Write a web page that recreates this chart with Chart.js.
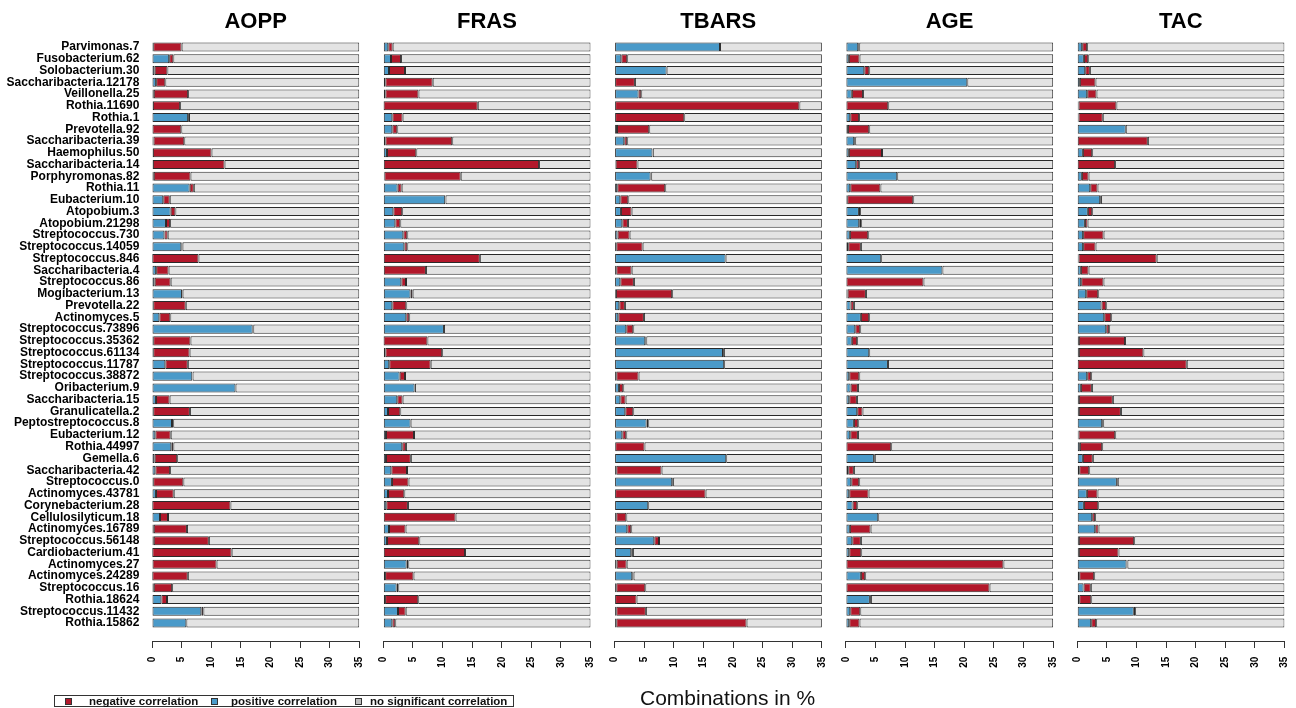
<!DOCTYPE html>
<html lang="en">
<head>
<meta charset="utf-8">
<title>Combinations in %</title>
<script src="https://cdn.jsdelivr.net/npm/chart.js@4.4.1/dist/chart.umd.min.js"></script>
<style>
  body { margin: 0; background: #fff; width: 1296px; height: 708px; overflow: hidden; position: relative;
         font-family: 'Liberation Sans', Arial, sans-serif; color: #111; }
  .panel { position: absolute; top: 0; height: 708px; }
  .legend-box { position: absolute; left: 54px; top: 695px; width: 458px; height: 10px; border: 1px solid #333; }
  .sq { position: absolute; top: 698px; width: 5px; height: 5px; border: 1px solid #333; }
  .lt { position: absolute; top: 695px; line-height: 12px; font-size: 11.5px; font-weight: bold; white-space: nowrap; }
  .xlab { position: absolute; left: 640px; top: 686px; font-size: 21px; line-height: 24px; white-space: nowrap; }
</style>
</head>
<body>
<div class="panel" style="left:0px;width:384px"><canvas id="p0"></canvas></div>
<div class="panel" style="left:359px;width:256px"><canvas id="p1"></canvas></div>
<div class="panel" style="left:590px;width:256px"><canvas id="p2"></canvas></div>
<div class="panel" style="left:821px;width:256px"><canvas id="p3"></canvas></div>
<div class="panel" style="left:1053px;width:256px"><canvas id="p4"></canvas></div>

<div class="legend-box"></div>
<div class="sq" style="left:65px;background:#B2182B"></div>
<div class="lt" style="left:89px">negative correlation</div>
<div class="sq" style="left:211px;background:#4A9AC9"></div>
<div class="lt" style="left:231px">positive correlation</div>
<div class="sq" style="left:355px;background:#BEBEBE"></div>
<div class="lt" style="left:370px">no significant correlation</div>
<div class="xlab">Combinations in %</div>

<script>
const taxa = ['Parvimonas.7','Fusobacterium.62','Solobacterium.30','Saccharibacteria.12178','Veillonella.25',
  'Rothia.11690','Rothia.1','Prevotella.92','Saccharibacteria.39','Haemophilus.50','Saccharibacteria.14',
  'Porphyromonas.82','Rothia.11','Eubacterium.10','Atopobium.3','Atopobium.21298','Streptococcus.730',
  'Streptococcus.14059','Streptococcus.846','Saccharibacteria.4','Streptococcus.86','Mogibacterium.13',
  'Prevotella.22','Actinomyces.5','Streptococcus.73896','Streptococcus.35362','Streptococcus.61134',
  'Streptococcus.11787','Streptococcus.38872','Oribacterium.9','Saccharibacteria.15','Granulicatella.2',
  'Peptostreptococcus.8','Eubacterium.12','Rothia.44997','Gemella.6','Saccharibacteria.42','Streptococcus.0',
  'Actinomyces.43781','Corynebacterium.28','Cellulosilyticum.18','Actinomyces.16789','Streptococcus.56148',
  'Cardiobacterium.41','Actinomyces.27','Actinomyces.24289','Streptococcus.16','Rothia.18624',
  'Streptococcus.11432','Rothia.15862'];

const markers = ['AOPP', 'FRAS', 'TBARS', 'AGE', 'TAC'];
const xTicks = [0, 5, 10, 15, 20, 25, 30, 35];

// % of combinations with a positive / negative correlation, per taxon
const aoppPos = [0.2,2.9,0.45,0.7,0.3,0.15,6.1,0,0.25,0.15,0.15,0.3,6.36,1.9,3.15,2.36,2.1,4.95,0.05,0.7,0.45,5.06,0.2,1.24,17.0,
  0.2,0.2,2.25,6.8,14.1,0.67,0.2,3.38,0.56,3.26,0.45,0.56,0.2,0.67,0.05,1.35,0.3,0.3,0.05,0,0.05,0.3,1.58,8.33,5.8];
const aoppNeg = [4.8,0.7,2.15,1.55,5.8,4.6,0.15,4.95,5.2,9.9,12.1,6.2,0.7,1.1,0.8,0.7,0.55,0.2,7.8,2.1,2.7,0.1,5.5,1.85,0.1,
  6.3,6.15,3.8,0.05,0,2.3,6.2,0.2,2.6,0.35,3.8,2.5,5.1,3.0,13.2,1.35,5.6,9.3,13.4,10.9,6.0,3.1,0.95,0.35,0];

const frasPos = [0.84,1.3,0.96,0.34,0.34,0.05,1.52,1.52,0.34,0.62,0,0.17,2.42,10.45,1.69,2.03,3.38,3.55,0,0,3.04,4.6,1.52,3.88,10.24,
  0.05,0.34,1.0,2.76,5.29,2.36,0.79,4.61,0.45,3.2,0.45,1.35,1.46,0.79,0.5,0,0.96,0.62,0,3.94,0.3,2.25,0.3,2.48,1.52];
const frasNeg = [0.74,1.7,2.7,8.0,5.6,15.9,1.74,0.84,11.3,4.95,26.3,12.9,0.68,0.05,1.5,0.84,0.67,0.5,16.3,7.2,0.79,0.35,2.36,0.5,0,
  7.4,9.6,7.0,0.9,0.05,0.9,2.08,0,4.73,0.62,4.2,2.65,2.8,2.76,3.66,12.2,2.8,5.46,13.8,0.28,4.8,0.28,5.6,1.3,0.5];

const tbarsPos = [17.8,1.13,8.78,0,4.05,0,0,0.4,1.63,6.4,0.17,6.08,0.45,0.96,1.07,1.3,0.5,0.28,18.74,0.28,0.96,0.22,0.79,0.62,1.97,
  5.18,18.3,18.5,0.28,0.73,0.96,1.8,5.4,1.3,0.1,18.85,0.28,9.73,0,5.68,0.28,2.14,6.7,2.81,0.34,2.98,0.28,0,0.28,0.28];
const tbarsNeg = [0,1.0,0,3.43,0.45,31.2,11.76,5.45,0.5,0.05,3.7,0.1,8.1,1.35,1.8,0.95,2.03,4.45,0,2.6,2.3,9.5,0.95,4.33,1.18,
  0.17,0.15,0,3.77,0.73,0.9,1.35,0.28,0.67,4.95,0,7.65,0.15,15.36,0,1.7,0.67,0.8,0.28,1.7,0.22,4.9,3.71,5.0,22.0];

const agePos = [2.08,0.5,3.1,20.5,1.0,0,0.73,0.34,1.4,0.5,1.74,8.67,0.73,0.22,2.2,2.25,0.67,0.39,5.96,16.3,0,0.28,0.79,2.53,1.58,
  1.0,3.94,7.1,0.56,0.79,0.56,1.91,1.35,0.73,0,4.73,0.39,0.9,0.56,1.13,5.46,0.67,1.07,0.56,0,2.53,0,4.05,0.73,0.56];
const ageNeg = [0.17,1.8,0.84,0,1.9,7.15,1.5,3.6,0.17,5.6,0.5,0,5.1,11.15,0.2,0.33,3.1,2.14,0,0,13.1,3.1,0.56,1.4,0.84,
  0.9,0,0,1.7,1.24,1.3,0.9,0.73,1.3,7.65,0.15,0.96,1.35,3.27,0.78,0,3.5,1.46,2.03,26.6,0.73,24.25,0.17,1.7,1.74];

const tacPos = [0.84,1.13,1.35,0.45,1.69,0.22,0.22,8.2,0,0.96,0,0.79,2.2,3.88,1.8,1.3,1.0,1.0,0.22,0.62,0.67,1.52,4.1,4.56,4.9,
  0.28,0.28,0,1.69,0.62,0.28,0.28,4.22,0.22,0.45,0.96,0.34,6.7,1.63,1.13,2.53,3.04,0.28,0.28,8.33,0.34,1.07,0.34,9.56,2.36];
const tacNeg = [0.84,0.73,0.79,2.64,1.57,6.4,4.1,0,11.93,1.57,6.4,1.13,1.23,0.15,0.73,0.45,3.45,2.1,13.2,1.3,3.77,2.03,0.8,1.18,0.5,
  7.8,10.9,18.5,0.67,1.86,5.74,7.1,0.17,6.2,3.77,1.68,1.69,0.15,1.8,2.42,0.5,0.56,9.34,6.7,0.15,2.53,1.23,2.03,0.22,0.84];

const positives = [aoppPos, frasPos, tbarsPos, agePos, tacPos];
const negatives = [aoppNeg, frasNeg, tbarsNeg, ageNeg, tacNeg];

const X_MAX = 35;
const RED = '#B2182B', BLUE = '#4A9AC9', GREY = '#E3E3E3', EDGE = '#2a2a2a';

Chart.defaults.font.family = "'Liberation Sans', Arial, sans-serif";
Chart.defaults.color = '#111';

// panel geometry: plot width and left padding inside each canvas
const plotW = 207.3;
const canvasW = [384, 256, 256, 256, 256];
const padLeft = [0, 24.3, 24.6, 24.9, 24.2];
const labelW = 152;

markers.forEach((name, i) => {
  const pos = positives[i];
  const neg = negatives[i];
  const rest = pos.map((p, k) => Math.max(X_MAX - p - neg[k], 0));
  const first = i === 0;
  const left = padLeft[i];
  const right = canvasW[i] - (first ? labelW : left) - plotW;

  new Chart(document.getElementById('p' + i), {
    type: 'bar',
    data: {
      labels: taxa,
      datasets: [
        { label: 'positive correlation', data: pos, backgroundColor: BLUE },
        { label: 'negative correlation', data: neg, backgroundColor: RED },
        { label: 'no significant correlation', data: rest, backgroundColor: GREY }
      ].map(d => Object.assign(d, { xAxisID: 'x', yAxisID: 'y' }))
    },
    options: {
      indexAxis: 'y',
      responsive: true,
      maintainAspectRatio: false,
      animation: false,
      datasets: { bar: { borderColor: EDGE, borderWidth: 1, borderSkipped: false,
                         barPercentage: 0.77, categoryPercentage: 1.0 } },
      layout: { padding: { left: left, right: right, top: 0, bottom: 36.3 } },
      plugins: {
        legend: { display: false },
        tooltip: { enabled: false },
        title: {
          display: true, text: name, fullSize: false, color: '#000',
          font: { size: 22, weight: 'bold', lineHeight: 1.2 },
          padding: { top: 8.5, bottom: 6.2 }
        }
      },
      scales: {
        x: {
          stacked: true, min: 0, max: X_MAX, position: 'bottom', weight: 1,
          afterBuildTicks: s => { s.ticks = xTicks.map(v => ({ value: v })); },
          grid: { display: true, drawOnChartArea: false, tickLength: 6.3, color: '#333', lineWidth: 1 },
          border: { display: true, color: '#333', width: 1 },
          ticks: { minRotation: 90, maxRotation: 90, autoSkip: false, padding: 8.7, color: '#000',
                   font: { size: 10, weight: 'bold' } },
          afterFit: s => { s.height = 30; }
        },
        y: {
          stacked: true,
          display: first,
          grid: { display: false, drawTicks: false },
          border: { display: false },
          ticks: { autoSkip: false, padding: 12.7, color: '#000', font: { size: 12, weight: 'bold' } },
          afterFit: s => { s.width = first ? labelW : 0; }
        },
        gap: {
          type: 'linear', axis: 'x', position: 'bottom', weight: 0,
          grid: { display: false }, border: { display: false }, ticks: { display: false },
          afterFit: s => { s.height = 12.8; }
        }
      }
    }
  });
});
</script>
</body>
</html>
